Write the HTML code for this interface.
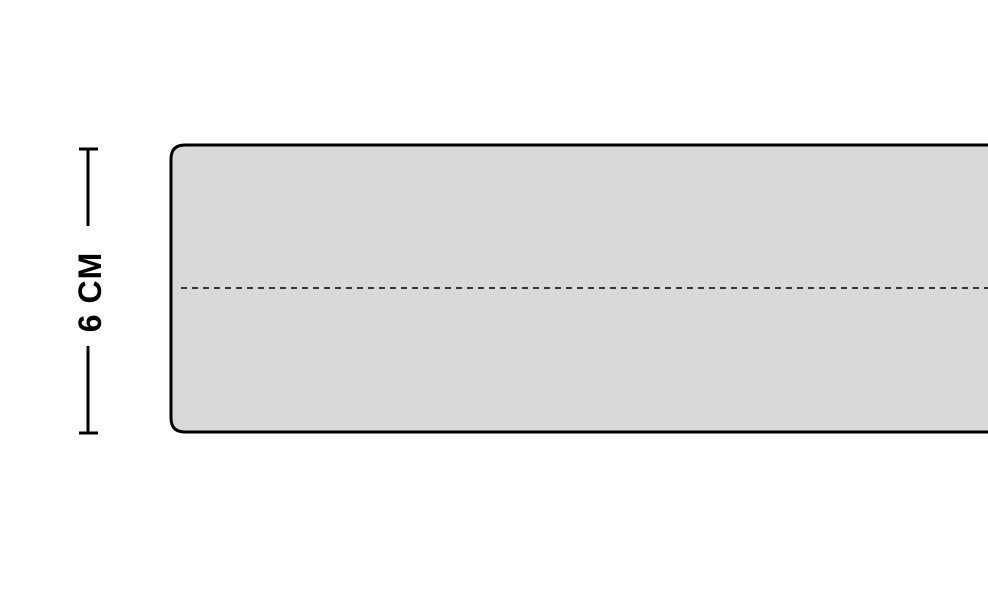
<!DOCTYPE html>
<html><head><style>
html,body{margin:0;padding:0;background:#fff;width:988px;height:604px;overflow:hidden}
</style></head><body>
<svg width="988" height="604" viewBox="0 0 988 604" xmlns="http://www.w3.org/2000/svg">
<path d="M1000 145 H185 Q171 145 171 159 V418 Q171 432 185 432 H1000" fill="#d9d9d9" stroke="#000" stroke-width="3"/>
<line x1="181" y1="288" x2="988" y2="288" stroke="#000" stroke-width="1.5" stroke-dasharray="6,5"/>
<g stroke="#000" stroke-width="3">
<line x1="79" y1="149" x2="98" y2="149"/>
<line x1="79" y1="433" x2="98" y2="433"/>
<line x1="88" y1="149" x2="88" y2="226"/>
<line x1="88" y1="346" x2="88" y2="433"/>
</g>
<text x="0" y="0" transform="translate(101,292) rotate(-90)" text-anchor="middle" font-family="Liberation Sans, sans-serif" font-weight="bold" font-size="32" letter-spacing="1">6 CM</text>
</svg>
</body></html>
